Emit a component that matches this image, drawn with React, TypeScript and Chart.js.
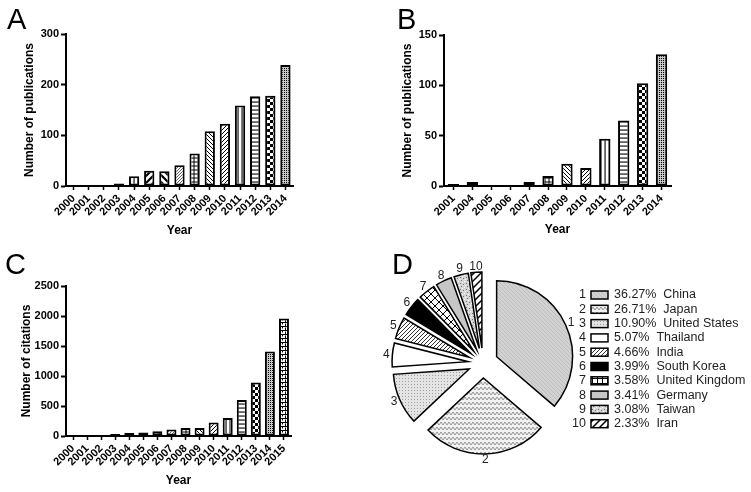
import React, { useEffect, useRef } from "react";
import { Chart, registerables } from "chart.js";

Chart.register(...registerables);

const FONT = "'Liberation Sans', Arial, Helvetica, sans-serif";

// ---------- Panel A: publications per year ----------
const yearsA = ["2000", "2001", "2002", "2003", "2004", "2005", "2006", "2007", "2008", "2009", "2010", "2011", "2012", "2013", "2014"];
const publicationsA = [1, 2, 2, 5, 19, 30, 29, 41, 64, 108, 123, 159, 177, 178, 239];
const yTicksA = [0, 100, 200, 300];

// ---------- Panel B: publications per year ----------
const yearsB = ["2001", "2004", "2005", "2006", "2007", "2008", "2009", "2010", "2011", "2012", "2013", "2014"];
const publicationsB = [2, 4, 1, 1, 4, 10, 22, 18, 47, 65, 102, 131];
const yTicksB = [0, 50, 100, 150];

// ---------- Panel C: citations per year ----------
const yearsC = ["2000", "2001", "2002", "2003", "2004", "2005", "2006", "2007", "2008", "2009", "2010", "2011", "2012", "2013", "2014", "2015"];
const citationsC = [0, 1, 3, 35, 50, 60, 80, 110, 133, 135, 225, 300, 600, 890, 1410, 1960];
const yTicksC = [0, 500, 1000, 1500, 2000, 2500];

// ---------- Panel D: countries ----------
const countriesD = ["China", "Japan", "United States", "Thailand", "India", "South Korea", "United Kingdom", "Germany", "Taiwan", "Iran"];
const sharesD = [36.27, 26.71, 10.9, 5.07, 4.66, 3.99, 3.58, 3.41, 3.08, 2.33];

// ---------- styles ----------
const yearPattern: Record<string, string> = {
  "2000": "white", "2001": "white", "2002": "white", "2003": "white",
  "2004": "vert", "2005": "diagWide", "2006": "diagWideBack", "2007": "diagFine",
  "2008": "grid", "2009": "diagBack", "2010": "diag", "2011": "vert",
  "2012": "horiz", "2013": "checker", "2014": "gray", "2015": "brick",
};

type Fill = string | CanvasPattern;

function tile(w: number, h: number, draw: (g: CanvasRenderingContext2D) => void): Fill {
  const c = document.createElement("canvas");
  c.width = w;
  c.height = h;
  const g = c.getContext("2d")!;
  draw(g);
  return g.createPattern(c, "repeat")!;
}

function hatchDraw(g: CanvasRenderingContext2D, s: number, dir: number, lw: number, color: string) {
  g.strokeStyle = color;
  g.lineWidth = lw;
  g.beginPath();
  for (const o of [-s, 0, s]) {
    if (dir > 0) {
      g.moveTo(o - 1, s + 1);
      g.lineTo(o + s + 1, -1);
    } else {
      g.moveTo(o - 1, -1);
      g.lineTo(o + s + 1, s + 1);
    }
  }
  g.stroke();
}

function hatch(s: number, dir: number, lw: number, color: string, bg: string): Fill {
  return tile(s, s, (g) => {
    g.fillStyle = bg;
    g.fillRect(0, 0, s, s);
    hatchDraw(g, s, dir, lw, color);
  });
}

function makePatterns(): Record<string, Fill> {
  return {
    white: "#ffffff",
    vert: tile(4, 4, (g) => {
      g.fillStyle = "#fff"; g.fillRect(0, 0, 4, 4);
      g.fillStyle = "#000"; g.fillRect(1.5, 0, 1.1, 4);
    }),
    horiz: tile(4, 4, (g) => {
      g.fillStyle = "#fff"; g.fillRect(0, 0, 4, 4);
      g.fillStyle = "#000"; g.fillRect(0, 1.5, 4, 1.1);
    }),
    diag: hatch(4, 1, 1, "#000", "#fff"),
    diagBack: hatch(4, -1, 1, "#000", "#fff"),
    diagFine: hatch(3, 1, 0.8, "#333", "#fff"),
    diagWide: hatch(7, 1, 2.2, "#000", "#fff"),
    diagWideBack: hatch(7, -1, 2.2, "#000", "#fff"),
    grid: tile(4, 4, (g) => {
      g.fillStyle = "#fff"; g.fillRect(0, 0, 4, 4);
      g.fillStyle = "#000"; g.fillRect(0, 1.5, 4, 1); g.fillRect(1.5, 0, 1, 4);
    }),
    checker: tile(6, 6, (g) => {
      g.fillStyle = "#fff"; g.fillRect(0, 0, 6, 6);
      g.fillStyle = "#000"; g.fillRect(0, 0, 3, 3); g.fillRect(3, 3, 3, 3);
    }),
    gray: tile(2, 2, (g) => {
      g.fillStyle = "#c8c8c8"; g.fillRect(0, 0, 2, 2);
      g.fillStyle = "#000"; g.fillRect(0, 0, 1, 1);
    }),
    brick: tile(6, 4, (g) => {
      g.fillStyle = "#fff"; g.fillRect(0, 0, 6, 4);
      g.fillStyle = "#000"; g.fillRect(0, 0, 6, 1); g.fillRect(0, 0, 1, 2.5); g.fillRect(3, 1.5, 1, 2.5);
    }),
  };
}

function makePiePatterns(): { slices: Fill[]; legend: Fill[] } {
  const p1 = hatch(4, -1, 0.6, "#b0b0b0", "#d2d2d2");
  const p2 = tile(8, 5, (g) => {
    g.fillStyle = "#f2f2f2"; g.fillRect(0, 0, 8, 5);
    g.strokeStyle = "#8a8a8a"; g.lineWidth = 0.9;
    g.beginPath(); g.moveTo(-2, 1); g.lineTo(0, 4); g.lineTo(2, 1); g.lineTo(4, 4); g.lineTo(6, 1); g.lineTo(8, 4); g.lineTo(10, 1); g.stroke();
  });
  const p3 = tile(3, 3, (g) => {
    g.fillStyle = "#e4e4e4"; g.fillRect(0, 0, 3, 3);
    g.fillStyle = "#a0a0a0"; g.fillRect(0, 0, 1, 1);
  });
  const p5 = hatch(4, 1, 1, "#333", "#fff");
  const p7 = tile(8, 8, (g) => {
    g.fillStyle = "#fff"; g.fillRect(0, 0, 8, 8);
    hatchDraw(g, 8, 1, 1, "#000");
    hatchDraw(g, 8, -1, 1, "#000");
  });
  const p7legend = tile(5, 5, (g) => {
    g.fillStyle = "#fff"; g.fillRect(0, 0, 5, 5);
    g.fillStyle = "#000"; g.fillRect(0, 2, 5, 1); g.fillRect(2, 0, 1, 5);
  });
  const p9 = tile(6, 6, (g) => {
    g.fillStyle = "#d6d6d6"; g.fillRect(0, 0, 6, 6);
    g.fillStyle = "#707070"; g.fillRect(1, 1, 1, 1); g.fillRect(4, 2, 1, 1); g.fillRect(2, 4, 1, 1);
    g.fillStyle = "#ffffff"; g.fillRect(3, 0, 1, 1); g.fillRect(0, 3, 1, 1); g.fillRect(5, 5, 1, 1);
  });
  const p10 = hatch(7, 1, 1.5, "#000", "#fff");
  const slices: Fill[] = [p1, p2, p3, "#ffffff", p5, "#000000", p7, "#c6c6c6", p9, p10];
  const legend: Fill[] = [p1, p2, p3, "#ffffff", p5, "#000000", p7legend, "#c6c6c6", p9, p10];
  return { slices, legend };
}

interface BarSpec {
  labels: string[];
  values: number[];
  ticks: number[];
  yTitle: string;
  w: number;
  h: number;
  left: number;
  right: number;
  top: number;
  bottom: number;
  yTitleX: number;
  xTitleY: number;
  barPct: number;
}

function makeBar(canvas: HTMLCanvasElement, s: BarSpec, pats: Record<string, Fill>) {
  return new Chart(canvas, {
    type: "bar",
    data: {
      labels: s.labels,
      datasets: [
        {
          data: s.values,
          backgroundColor: s.labels.map((y) => pats[yearPattern[y]]) as any,
          borderColor: "#000",
          borderWidth: 2,
          borderSkipped: false,
          barPercentage: s.barPct,
          categoryPercentage: 1,
        },
      ],
    },
    options: {
      responsive: false,
      animation: false,
      events: [],
      layout: { padding: { left: 0, top: s.top, right: s.w - s.right, bottom: 0 } },
      plugins: { legend: { display: false }, tooltip: { enabled: false } },
      scales: {
        x: {
          type: "category",
          offset: true,
          grid: { offset: false, drawOnChartArea: false, drawTicks: true, tickLength: 4, tickWidth: 1.5, tickColor: "#000" },
          border: { display: true, color: "#000", width: 2 },
          ticks: {
            autoSkip: false,
            minRotation: 45,
            maxRotation: 45,
            padding: 2,
            color: "#000",
            font: { family: FONT, size: 11, weight: "bold" },
          },
          title: {
            display: true,
            text: "Year",
            color: "#000",
            font: { family: FONT, size: 12, weight: "bold" },
            padding: { top: 0, bottom: s.h - s.xTitleY - 7.2 },
          },
          afterFit: (sc: any) => {
            sc.height = s.h - s.bottom;
          },
        },
        y: {
          min: s.ticks[0],
          max: s.ticks[s.ticks.length - 1],
          afterBuildTicks: (sc: any) => {
            sc.ticks = s.ticks.map((v) => ({ value: v }));
          },
          grid: { drawOnChartArea: false, drawTicks: true, tickLength: 5, tickWidth: 2, tickColor: "#000" },
          border: { display: true, color: "#000", width: 2 },
          ticks: {
            padding: 2,
            color: "#000",
            font: { family: FONT, size: 11, weight: "bold" },
            callback: (v: any) => String(v),
          },
          title: {
            display: true,
            text: s.yTitle,
            color: "#000",
            font: { family: FONT, size: 12, weight: "bold" },
            padding: { top: s.yTitleX - 7.2, bottom: 0 },
          },
          afterFit: (sc: any) => {
            sc.width = s.left;
          },
        },
      },
    } as any,
  });
}

const EXPLODE = 15;
const PIE_RADIUS = 76;

function makePie(canvas: HTMLCanvasElement) {
  const pp = makePiePatterns();
  const explode = {
    id: "explode",
    afterDatasetUpdate(chart: any, args: any) {
      const meta = args.meta || chart.getDatasetMeta(args.index);
      meta.data.forEach((arc: any) => {
        const mid = (arc.startAngle + arc.endAngle) / 2;
        arc.x += EXPLODE * Math.cos(mid);
        arc.y += EXPLODE * Math.sin(mid);
      });
    },
  };
  const annotate = {
    id: "annotate",
    afterDraw(chart: any) {
      const ctx: CanvasRenderingContext2D = chart.ctx;
      const meta = chart.getDatasetMeta(0);
      ctx.save();
      ctx.font = `12px ${FONT}`;
      ctx.fillStyle = "#1e1e1e";
      ctx.textAlign = "center";
      ctx.textBaseline = "middle";
      meta.data.forEach((arc: any, i: number) => {
        const mid = (arc.startAngle + arc.endAngle) / 2;
        const r = arc.outerRadius + 6;
        ctx.fillText(String(i + 1), arc.x + r * Math.cos(mid), arc.y + r * Math.sin(mid));
      });
      // legend
      const rowTop = 49;
      const rowGap = 14.3;
      ctx.font = `12.5px ${FONT}`;
      countriesD.forEach((name, i) => {
        const y = rowTop + i * rowGap;
        ctx.fillStyle = "#1e1e1e";
        ctx.textAlign = "right";
        ctx.fillText(String(i + 1), 211, y);
        ctx.fillStyle = pp.legend[i] as any;
        ctx.fillRect(216, y - 4, 17, 8);
        ctx.strokeStyle = "#000";
        ctx.lineWidth = 1.5;
        ctx.strokeRect(216, y - 4, 17, 8);
        ctx.fillStyle = "#1e1e1e";
        ctx.textAlign = "left";
        ctx.fillText(`${sharesD[i].toFixed(2)}%  ${name}`, 239, y);
      });
      ctx.restore();
    },
  };
  return new Chart(canvas, {
    type: "pie",
    data: {
      labels: countriesD,
      datasets: [
        {
          data: sharesD,
          backgroundColor: pp.slices as any,
          borderColor: "#000",
          borderWidth: 1.5,
          borderJoinStyle: "miter",
          radius: PIE_RADIUS,
        } as any,
      ],
    },
    options: {
      responsive: false,
      animation: false,
      events: [],
      layout: { padding: { left: 0, top: 0, right: 160, bottom: 12 } },
      plugins: { legend: { display: false }, tooltip: { enabled: false } },
    } as any,
    plugins: [explode, annotate] as any,
  });
}

const letterStyle = (left: number, top: number): React.CSSProperties => ({
  position: "absolute",
  left,
  top,
  fontFamily: FONT,
  fontSize: 29,
  lineHeight: 1,
  color: "#000",
});

export default function App() {
  const refA = useRef<HTMLCanvasElement>(null);
  const refB = useRef<HTMLCanvasElement>(null);
  const refC = useRef<HTMLCanvasElement>(null);
  const refD = useRef<HTMLCanvasElement>(null);

  useEffect(() => {
    const pats = makePatterns();
    const charts = [
      makeBar(refA.current!, {
        labels: yearsA, values: publicationsA, ticks: yTicksA, yTitle: "Number of publications",
        w: 375, h: 246, left: 66, right: 293, top: 34, bottom: 186, yTitleX: 30, xTitleY: 230.5, barPct: 0.68,
      }, pats),
      makeBar(refB.current!, {
        labels: yearsB, values: publicationsB, ticks: yTicksB, yTitle: "Number of publications",
        w: 376, h: 246, left: 69, right: 296, top: 35, bottom: 186, yTitleX: 33, xTitleY: 230, barPct: 0.6,
      }, pats),
      makeBar(refC.current!, {
        labels: yearsC, values: citationsC, ticks: yTicksC, yTitle: "Number of citations",
        w: 375, h: 246, left: 66, right: 291, top: 40, bottom: 190, yTitleX: 27, xTitleY: 234.5, barPct: 0.71,
      }, pats),
      makePie(refD.current!),
    ];
    return () => charts.forEach((c) => c.destroy());
  }, []);

  const cv = (left: number, top: number, w: number): React.CSSProperties => ({
    position: "absolute", left, top, width: w, height: 246,
  });

  return (
    <div style={{ position: "absolute", left: 0, top: 0, width: 751, height: 492, background: "#fff", overflow: "hidden" }}>
      <canvas ref={refA} width={375} height={246} style={cv(0, 0, 375)} />
      <canvas ref={refB} width={376} height={246} style={cv(375, 0, 376)} />
      <canvas ref={refC} width={375} height={246} style={cv(0, 246, 375)} />
      <canvas ref={refD} width={376} height={246} style={cv(375, 246, 376)} />
      <div style={letterStyle(7, 5)}>A</div>
      <div style={letterStyle(397, 5)}>B</div>
      <div style={letterStyle(5, 250)}>C</div>
      <div style={letterStyle(392, 250)}>D</div>
    </div>
  );
}
